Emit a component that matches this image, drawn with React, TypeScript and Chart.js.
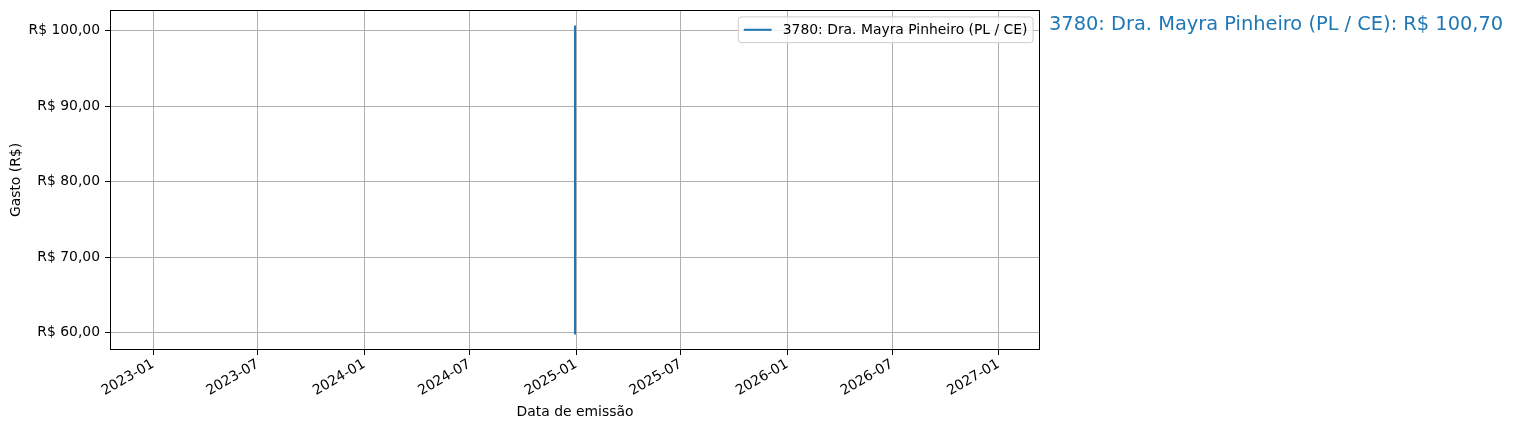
import React, { useEffect, useRef } from "react";
import { Chart, registerables } from "chart.js";

Chart.register(...registerables);

const seriesLabel = "3780: Dra. Mayra Pinheiro (PL / CE)";
const pointDates = ["2024-12-30", "2024-12-30"];
const pointValues = [59.73, 100.7];
const xTickLabels = ["2023-01", "2023-07", "2024-01", "2024-07", "2025-01", "2025-07", "2026-01", "2026-07", "2027-01"];
const yTickValues = [60, 70, 80, 90, 100];
const annotationText = "3780: Dra. Mayra Pinheiro (PL / CE): R$ 100,70";
const xTitle = "Data de emissão";
const yTitle = "Gasto (R$)";

const DAY = 86400000;
const toDay = (s: string) => {
  const [y, m, d] = s.split("-").map(Number);
  return Date.UTC(y, m - 1, d || 1) / DAY;
};
const fmtDay = (v: number) => {
  const d = new Date(Math.round(v) * DAY);
  return `${d.getUTCFullYear()}-${String(d.getUTCMonth() + 1).padStart(2, "0")}`;
};
const fmtBRL = (v: number) => "R$ " + v.toFixed(2).replace(".", ",");

const FONT = "'DejaVu Sans', sans-serif";
const FS = 13.9;
const BLUE = "#1f77b4";

export default function App() {
  const ref = useRef<HTMLCanvasElement | null>(null);

  useEffect(() => {
    const canvas = ref.current;
    if (!canvas) return;

    const xs = pointDates.map(toDay);
    let xlo = Math.min(...xs);
    let xhi = Math.max(...xs);
    if (xlo === xhi) {
      xlo -= 730.5;
      xhi += 730.5;
    }
    const xm = (xhi - xlo) * 0.05;
    const ylo0 = Math.min(...pointValues);
    const yhi0 = Math.max(...pointValues);
    const ym = (yhi0 - ylo0) * 0.05;

    const framePlugin = {
      id: "framePlugin",
      afterDraw(chart: any) {
        const { ctx, chartArea: a } = chart;
        ctx.save();
        ctx.strokeStyle = "#000";
        ctx.lineWidth = 1;
        const L = Math.round(a.left), T = Math.round(a.top), R = Math.round(a.right), B = Math.round(a.bottom);
        ctx.strokeRect(L + 0.5, T + 0.5, R - L - 1, B - T - 1);

        // legend
        ctx.font = `${FS}px ${FONT}`;
        const tw = ctx.measureText(seriesLabel).width;
        const pad = 0.4 * FS;
        const hl = 2 * FS;
        const htp = 0.8 * FS;
        const w = pad + hl + htp + tw + pad;
        const h = 2 * pad + FS * 1.05;
        const right = a.right - 0.5 * FS;
        const top = a.top + 0.5 * FS;
        const left = right - w;
        const r = 0.2 * FS;
        ctx.beginPath();
        ctx.moveTo(left + r, top);
        ctx.lineTo(right - r, top);
        ctx.quadraticCurveTo(right, top, right, top + r);
        ctx.lineTo(right, top + h - r);
        ctx.quadraticCurveTo(right, top + h, right - r, top + h);
        ctx.lineTo(left + r, top + h);
        ctx.quadraticCurveTo(left, top + h, left, top + h - r);
        ctx.lineTo(left, top + r);
        ctx.quadraticCurveTo(left, top, left + r, top);
        ctx.closePath();
        ctx.fillStyle = "rgba(255,255,255,0.8)";
        ctx.fill();
        ctx.strokeStyle = "#cccccc";
        ctx.lineWidth = 1;
        ctx.stroke();
        const cy = top + h / 2;
        ctx.strokeStyle = BLUE;
        ctx.lineWidth = 2.08;
        ctx.beginPath();
        ctx.moveTo(left + pad, cy);
        ctx.lineTo(left + pad + hl, cy);
        ctx.stroke();
        ctx.fillStyle = "#000";
        ctx.textBaseline = "middle";
        ctx.textAlign = "left";
        ctx.fillText(seriesLabel, left + pad + hl + htp, cy + 0.5);

        // annotation
        const yScale = chart.scales.y;
        const last = pointValues[pointValues.length - 1];
        ctx.font = `19.4px ${FONT}`;
        ctx.fillStyle = BLUE;
        ctx.textBaseline = "middle";
        ctx.fillText(annotationText, a.right + 9, yScale.getPixelForValue(last));
        ctx.restore();
      },
    };

    const chart = new Chart(canvas, {
      type: "line",
      data: {
        datasets: [
          {
            label: seriesLabel,
            data: pointDates.map((d, i) => ({ x: toDay(d), y: pointValues[i] })),
            borderColor: BLUE,
            backgroundColor: BLUE,
            borderWidth: 2.08,
            pointRadius: 0,
            fill: false,
            tension: 0,
          },
        ],
      },
      options: {
        responsive: false,
        animation: false,
        devicePixelRatio: 1,
        layout: { padding: { left: 0, top: 10, right: 474, bottom: 0 } },
        plugins: { legend: { display: false }, tooltip: { enabled: false } },
        scales: {
          x: {
            type: "linear",
            min: xlo - xm,
            max: xhi + xm,
            afterFit: (s: any) => {
              s.height = 80;
              s.paddingLeft = 0;
              s.paddingRight = 0;
            },
            afterBuildTicks: (s: any) => {
              s.ticks = xTickLabels.map((t) => ({ value: toDay(t + "-01") }));
            },
            ticks: {
              autoSkip: false,
              minRotation: 30,
              maxRotation: 30,
              padding: 1,
              color: "#000",
              font: { family: FONT, size: FS },
              callback: (v: any) => fmtDay(Number(v)),
            },
            grid: { color: "#b0b0b0", lineWidth: 1, tickLength: 5, tickColor: "#000" },
            border: { display: false },
            title: {
              display: true,
              text: xTitle,
              color: "#000",
              font: { family: FONT, size: FS },
              padding: { top: 0, bottom: 9 },
            },
          },
          y: {
            type: "linear",
            min: ylo0 - ym,
            max: yhi0 + ym,
            afterFit: (s: any) => {
              s.width = 110;
              s.paddingTop = 0;
              s.paddingBottom = 0;
            },
            afterBuildTicks: (s: any) => {
              s.ticks = yTickValues.map((v) => ({ value: v }));
            },
            ticks: {
              padding: 5,
              color: "#000",
              font: { family: FONT, size: FS },
              callback: (v: any) => fmtBRL(Number(v)),
            },
            grid: { color: "#b0b0b0", lineWidth: 1, tickLength: 5, tickColor: "#000" },
            border: { display: false },
            title: {
              display: true,
              text: yTitle,
              color: "#000",
              font: { family: FONT, size: FS },
              padding: { top: 8, bottom: 0 },
            },
          },
        },
      },
      plugins: [framePlugin],
    });

    return () => chart.destroy();
  }, []);

  return (
    <div style={{ position: "absolute", left: 0, top: 0, width: 1514, height: 430, background: "#fff" }}>
      <canvas ref={ref} width={1514} height={430} style={{ display: "block", width: 1514, height: 430 }} />
    </div>
  );
}
